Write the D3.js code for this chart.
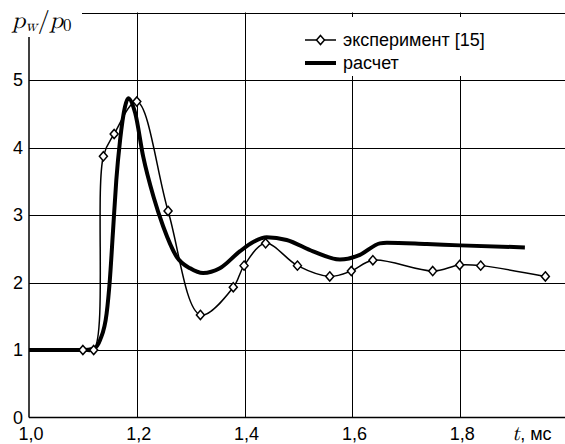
<!DOCTYPE html>
<html>
<head>
<meta charset="utf-8">
<script src="https://cdn.jsdelivr.net/npm/d3@7"></script>
<style>
  html, body { margin: 0; padding: 0; background: #fff; }
  svg { display: block; }
  text { fill: #000; }
</style>
</head>
<body>
<svg id="chart" width="565" height="444"></svg>
<script>
// Time axis ticks (ms) and pressure ratio ticks
const xTicks = [1.0, 1.2, 1.4, 1.6, 1.8];
const yTicks = [0, 1, 2, 3, 4, 5];

// Experiment [15]: wall pressure ratio p_w/p_0 over time t (ms)
const expT = [1.10, 1.12, 1.138, 1.158, 1.20, 1.258, 1.318, 1.379, 1.399, 1.439, 1.498, 1.558, 1.598, 1.638, 1.749, 1.799, 1.838, 1.958];
const expP = [1.0, 1.0, 3.87, 4.20, 4.68, 3.06, 1.52, 1.93, 2.25, 2.58, 2.25, 2.09, 2.17, 2.33, 2.17, 2.26, 2.25, 2.09];

// Calculation
const calcT = [1.0, 1.10, 1.12, 1.132, 1.144, 1.150, 1.156, 1.162, 1.169, 1.178, 1.184, 1.197, 1.212, 1.231, 1.249, 1.274, 1.299, 1.323, 1.354, 1.391, 1.416, 1.441, 1.478, 1.527, 1.577, 1.614, 1.651, 1.664, 1.738, 1.80, 1.92];
const calcP = [1.0, 1.0, 1.02, 1.15, 1.54, 2.04, 2.78, 3.52, 4.11, 4.60, 4.73, 4.51, 3.86, 3.27, 2.83, 2.38, 2.21, 2.14, 2.21, 2.46, 2.60, 2.67, 2.63, 2.46, 2.34, 2.41, 2.58, 2.59, 2.57, 2.55, 2.52];

const legendLabels = ["эксперимент [15]", "расчет"];

const SANS = "'Liberation Sans', Arial, sans-serif";
const SERIF = "'Latin Modern Math', 'DejaVu Serif', 'Liberation Serif', serif";

const W = 565, H = 444;
const svg = d3.select("#chart");

const x = d3.scaleLinear().domain([1.0, 2.0]).range([29, 568]);
const y = d3.scaleLinear().domain([0, 6]).range([417.5, 12.5]);
const xRight = W;

const commaFmt = v => d3.format(".1f")(v).replace(".", ",");

// Grid
const grid = svg.append("g").attr("stroke", "#000").attr("stroke-width", 1);
grid.selectAll("line.h").data(yTicks.filter(d => d > 0)).join("line")
  .attr("x1", x(1.0)).attr("x2", xRight)
  .attr("y1", d => Math.round(y(d)) + 0.5).attr("y2", d => Math.round(y(d)) + 0.5);
grid.selectAll("line.v").data(xTicks.filter(d => d > 1.0)).join("line")
  .attr("x1", d => Math.round(x(d)) + 0.5).attr("x2", d => Math.round(x(d)) + 0.5)
  .attr("y1", y(0)).attr("y2", y(6));

// Frame: top edge (interrupted by the axis title) and left/bottom axes
svg.append("line").attr("stroke", "#000").attr("stroke-width", 1.2)
  .attr("x1", 82).attr("x2", xRight).attr("y1", Math.round(y(6)) + 0.5).attr("y2", Math.round(y(6)) + 0.5);
svg.append("line").attr("stroke", "#000").attr("stroke-width", 1.5)
  .attr("x1", x(1.0)).attr("x2", x(1.0)).attr("y1", 37).attr("y2", y(0));
svg.append("line").attr("stroke", "#000").attr("stroke-width", 1.5)
  .attr("x1", x(1.0)).attr("x2", xRight).attr("y1", y(0)).attr("y2", y(0));

// Tick labels
svg.append("g").selectAll("text").data(xTicks).join("text")
  .attr("x", d => x(d) + 2).attr("y", 440)
  .attr("text-anchor", "middle").style("font-family", SANS).style("font-size", "18px")
  .text(commaFmt);
svg.append("g").selectAll("text").data(yTicks).join("text")
  .attr("x", 23).attr("y", d => y(d)).attr("dy", "0.36em")
  .attr("text-anchor", "end").style("font-family", SANS).style("font-size", "18px")
  .text(d => d);

// Axis titles
const yt = svg.append("text").attr("x", 12).attr("y", 28)
  .style("font-family", SERIF).style("font-size", "24px");
yt.append("tspan").style("font-style", "italic").text("p");
yt.append("tspan").style("font-style", "italic").style("font-size", "17px").attr("dy", 3).text("w");
yt.append("tspan").attr("dy", -3).text("/");
yt.append("tspan").style("font-style", "italic").text("p");
yt.append("tspan").style("font-size", "17px").attr("dy", 3).text("0");

const xt = svg.append("text").attr("x", 512).attr("y", 440)
  .style("font-family", SANS).style("font-size", "18px");
xt.append("tspan").style("font-family", SERIF)
  .style("font-style", "italic").style("font-size", "21px").text("t");
xt.append("tspan").text(", мс");

// Curves
const calcData = calcT.map((t, i) => [t, calcP[i]]);
const expData = expT.map((t, i) => [t, expP[i]]);

svg.append("path").datum(calcData)
  .attr("fill", "none").attr("stroke", "#000").attr("stroke-width", 4)
  .attr("stroke-linejoin", "round")
  .attr("d", d3.line().x(d => x(d[0])).y(d => y(d[1])).curve(d3.curveMonotoneX));

svg.append("path").datum(expData)
  .attr("fill", "none").attr("stroke", "#000").attr("stroke-width", 1.5)
  .attr("d", d3.line().x(d => x(d[0])).y(d => y(d[1])).curve(d3.curveCatmullRom.alpha(0.5)));

// Diamond marker
const diamond = {
  draw(ctx, size) {
    const r = Math.sqrt(size) / 2;
    ctx.moveTo(0, -r * 1.15);
    ctx.lineTo(r, 0);
    ctx.lineTo(0, r * 1.15);
    ctx.lineTo(-r, 0);
    ctx.closePath();
  }
};
const marker = d3.symbol().type(diamond).size(64);

svg.append("g").selectAll("path").data(expData).join("path")
  .attr("transform", d => `translate(${x(d[0])},${y(d[1])})`)
  .attr("d", marker)
  .attr("fill", "#fff").attr("stroke", "#000").attr("stroke-width", 1.5);

// Legend
const lg = svg.append("g");
lg.append("rect").attr("x", 292).attr("y", 17).attr("width", 250).attr("height", 59).attr("fill", "#fff");
lg.append("line").attr("x1", 305).attr("x2", 336).attr("y1", 40).attr("y2", 40)
  .attr("stroke", "#000").attr("stroke-width", 1.5);
lg.append("path").attr("transform", "translate(320.5,40)").attr("d", marker)
  .attr("fill", "#fff").attr("stroke", "#000").attr("stroke-width", 1.5);
lg.append("line").attr("x1", 305).attr("x2", 336).attr("y1", 63).attr("y2", 63)
  .attr("stroke", "#000").attr("stroke-width", 4);
lg.selectAll("text").data(legendLabels).join("text")
  .attr("x", 343).attr("y", (d, i) => 40 + i * 23).attr("dy", "0.36em")
  .style("font-family", SANS).style("font-size", "18px").text(d => d);
</script>
</body>
</html>
